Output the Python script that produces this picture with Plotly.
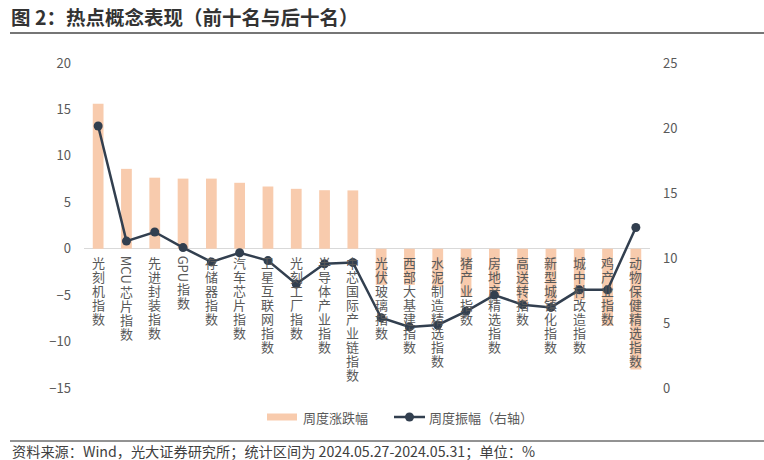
import plotly.graph_objects as go

# ---------------- data ----------------
categories = [
    "光刻机指数", "MCU芯片指数", "先进封装指数", "GPU指数", "存储器指数",
    "汽车芯片指数", "卫星互联网指数", "光刻工厂指数", "半导体产业指数", "中芯国际产业链指数",
    "光伏玻璃指数", "西部大基建指数", "水泥制造精选指数", "猪产业指数", "房地产精选指数",
    "高送转指数", "新型城镇化指数", "城中村改造指数", "鸡产业指数", "动物保健精选指数",
]
weekly_change = [15.6, 8.6, 7.65, 7.55, 7.55, 7.1, 6.7, 6.45, 6.3, 6.28,
                 -3.9, -3.9, -4.1, -5.2, -5.0, -6.0, -5.7, -5.5, -8.3, -13.0]
weekly_amplitude = [20.15, 11.3, 12.0, 10.8, 9.7, 10.4, 9.8, 8.0, 9.55, 9.65,
                    5.4, 4.7, 4.85, 5.9, 7.15, 6.4, 6.2, 7.55, 7.55, 12.35]
left_ticks = [-15, -10, -5, 0, 5, 10, 15, 20]
right_ticks = [0, 5, 10, 15, 20, 25]
series_names = ["周度涨跌幅", "周度振幅（右轴）"]
title_text = "图 2：热点概念表现（前十名与后十名）"
source_text = "资料来源：Wind，光大证券研究所；统计区间为 2024.05.27-2024.05.31；单位：%"

# ---------------- style ----------------
W, H = 764, 460
ML, MR, MT, MB = 84, 114, 63, 72
FONT = "Noto Sans CJK SC"
BAR = "#F8CBAD"
LINE = "#323F4F"
TXT = "#595959"
PW, PH = W - ML - MR, H - MT - MB


def xp(px):
    return (px - ML) / PW


def yp(py):
    return (H - MB - py) / PH


fig = go.Figure()
fig.add_trace(go.Bar(x=categories, y=weekly_change, name=series_names[0],
                     marker=dict(color=BAR, line=dict(width=0)), width=0.38,
                     showlegend=False))
fig.add_trace(go.Scatter(x=categories, y=weekly_amplitude, name=series_names[1], yaxis="y2",
                         mode="lines+markers", line=dict(color=LINE, width=2.5),
                         marker=dict(size=9, color=LINE), showlegend=False))

# ---- vertical category labels just below the zero line ----
latin_w = {"M": 11, "C": 9, "U": 9, "G": 9, "P": 8}
PITCH = 14
annotations = []
for cat in categories:
    offset = 7
    runs = []
    for ch in cat:
        if ch.isascii():
            if runs and runs[-1][0] == "latin":
                runs[-1][1] += ch
            else:
                runs.append(["latin", ch])
        else:
            runs.append(["cjk", ch])
    for kind, txt in runs:
        if kind == "cjk":
            annotations.append(dict(x=cat, y=0, xref="x", yref="y", text=txt, showarrow=False,
                                    yanchor="middle", xanchor="center",
                                    yshift=-(offset + PITCH / 2),
                                    font=dict(family=FONT, size=13, color=TXT)))
            offset += PITCH
        else:
            ln = sum(latin_w.get(c, 9) for c in txt)
            annotations.append(dict(x=cat, y=0, xref="x", yref="y", text=txt, showarrow=False,
                                    textangle=90, yanchor="middle", xanchor="center",
                                    yshift=-(offset + ln / 2),
                                    font=dict(family=FONT, size=13, color=TXT)))
            offset += ln

# ---- title, footer ----
annotations.append(dict(xref="paper", yref="paper", x=xp(9), y=yp(17), xanchor="left",
                        yanchor="middle", showarrow=False, text="<b>" + title_text + "</b>",
                        font=dict(family=FONT, size=19.5, color="#333333")))
annotations.append(dict(xref="paper", yref="paper", x=xp(10), y=yp(451), xanchor="left",
                        yanchor="middle", showarrow=False, text=source_text,
                        font=dict(family=FONT, size=14.2, color="#404040")))
# ---- legend text ----
annotations.append(dict(xref="paper", yref="paper", x=xp(301), y=yp(417), xanchor="left",
                        yanchor="middle", showarrow=False, text=series_names[0],
                        font=dict(family=FONT, size=13, color=TXT)))
annotations.append(dict(xref="paper", yref="paper", x=xp(427), y=yp(417), xanchor="left",
                        yanchor="middle", showarrow=False, text=series_names[1],
                        font=dict(family=FONT, size=13, color=TXT)))

shapes = [
    dict(type="line", xref="paper", yref="paper", x0=xp(10), x1=xp(764), y0=yp(33), y1=yp(33),
         line=dict(color="#767676", width=2.2)),
    dict(type="line", xref="paper", yref="paper", x0=xp(10), x1=xp(764), y0=yp(441), y1=yp(441),
         line=dict(color="#262626", width=1)),
    dict(type="rect", xref="paper", yref="paper", x0=xp(267), x1=xp(297), y0=yp(420.5), y1=yp(413.5),
         fillcolor=BAR, line=dict(width=0)),
    dict(type="line", xref="paper", yref="paper", x0=xp(394), x1=xp(425), y0=yp(417), y1=yp(417),
         line=dict(color=LINE, width=2.5)),
    dict(type="circle", xref="paper", yref="paper", x0=xp(405), x1=xp(414), y0=yp(421.5), y1=yp(412.5),
         fillcolor=LINE, line=dict(width=0)),
]

fig.update_layout(
    width=W, height=H,
    margin=dict(l=ML, r=MR, t=MT, b=MB, pad=0),
    paper_bgcolor="white", plot_bgcolor="white",
    font=dict(family=FONT, color=TXT),
    showlegend=False,
    bargap=0.62,
    xaxis=dict(type="category", showticklabels=False, showgrid=False, zeroline=False,
               showline=False, ticks="", range=[-0.5, len(categories) - 0.5]),
    yaxis=dict(range=[-15, 20], tickvals=left_ticks, showgrid=False, zeroline=True,
               zerolinecolor="#D9D9D9", zerolinewidth=1.2, showline=False, ticks="",
               tickfont=dict(family=FONT, size=13, color=TXT), ticklabelstandoff=12),
    yaxis2=dict(range=[0, 25], tickvals=right_ticks, overlaying="y", side="right",
                showgrid=False, zeroline=False, showline=False, ticks="",
                tickfont=dict(family=FONT, size=13, color=TXT), ticklabelstandoff=12),
    annotations=annotations,
    shapes=shapes,
)

fig.write_html("out.html", config={"displayModeBar": False},
               post_script="document.body.style.margin='0';document.body.style.overflow='hidden';")
